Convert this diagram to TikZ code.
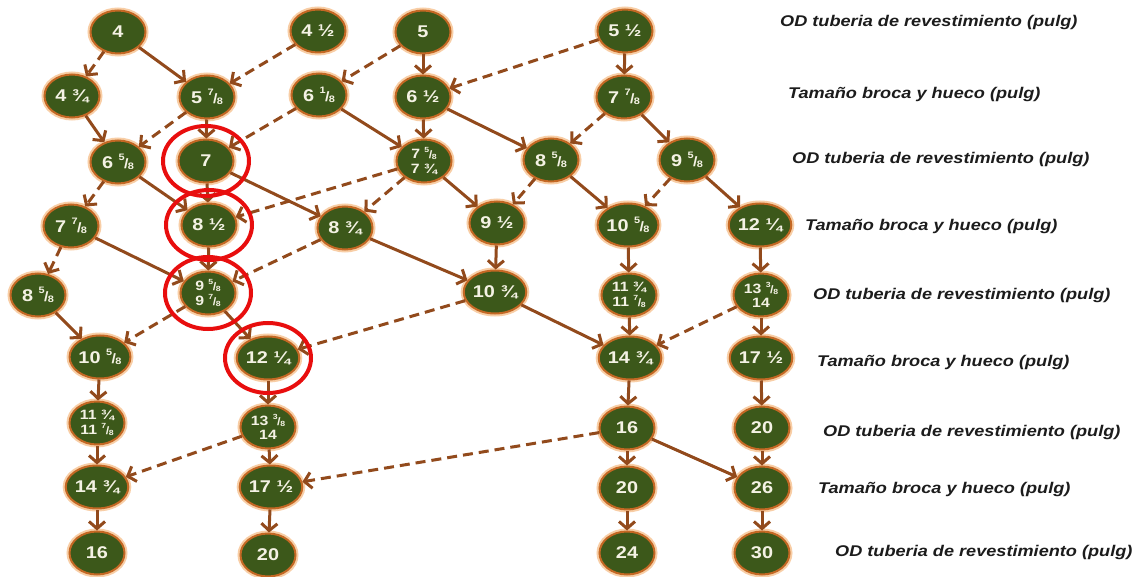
\documentclass[tikz,border=0pt]{standalone}
\usepackage{fontspec}
\setmainfont{Liberation Sans}
\usepackage{graphicx}
\usetikzlibrary{shapes.geometric,arrows.meta}

\definecolor{nodegreen}{RGB}{60,88,26}
\definecolor{rimorange}{RGB}{196,104,36}
\definecolor{halo}{RGB}{248,206,166}
\definecolor{linkbrown}{RGB}{146,74,28}
\definecolor{ringred}{RGB}{232,14,14}
\definecolor{labgray}{RGB}{28,28,28}
\definecolor{numtext}{RGB}{244,242,228}

% horizontally widened text
\newcommand\wide[1]{\scalebox{1.17}[1]{#1}}
% eighths written as small raised numerator / lowered denominator
\newcommand\eig[2]{\raisebox{.42em}{\scalebox{.55}{#1}}\kern-.03em\scalebox{.8}{/}\kern-.03em\raisebox{-.08em}{\scalebox{.55}{#2}}}

\tikzset{
  sz/.style={ellipse, fill=nodegreen, draw=rimorange, line width=2pt,
    minimum width=55pt, minimum height=43pt, inner sep=0pt, text=numtext,
    font=\fontsize{17}{17}\selectfont\bfseries,
    preaction={draw=halo, line width=6pt}},
  tw/.style={sz, align=center, font=\fontsize{13.5}{14.5}\selectfont\bfseries},
  link/.style={draw=linkbrown, line width=3pt,
    -{Straight Barb[length=7pt,width=16pt]}},
  dlink/.style={link, dash pattern=on 10pt off 6pt},
  ring/.style={draw=ringred, line width=4pt},
  lab/.style={anchor=west, inner sep=0pt, text=labgray,
    font=\fontsize{15.5}{16}\selectfont\bfseries\itshape}
}

\begin{document}
\begin{tikzpicture}[x=1pt,y=-1pt]
\fill[white] (0,0) rectangle (1143,577);
\useasboundingbox (0,0) rectangle (1143,577);

% row 1
\node[sz] (A1) at (118,32) {\wide{4}};
\node[sz] (A2) at (318,31) {\wide{4 ½}};
\node[sz] (A3) at (423,32) {\wide{5}};
\node[sz] (A4) at (625,31) {\wide{5 ½}};
% row 2
\node[sz] (B1) at (72,96) {\wide{4 ¾}};
\node[sz] (B2) at (207,97) {\wide{5 \eig78}};
\node[sz] (B3) at (319,95) {\wide{6 \eig18}};
\node[sz] (B4) at (423,97) {\wide{6 ½}};
\node[sz] (B5) at (624,97) {\wide{7 \eig78}};
% row 3
\node[sz] (C1) at (118,162) {\wide{6 \eig58}};
\node[sz] (C2) at (206,161) {\wide{7}};
\node[tw] (C3) at (424,161) {\wide{7 \eig58}\\\wide{7 ¾}};
\node[sz] (C4) at (551,160) {\wide{8 \eig58}};
\node[sz] (C5) at (687,160) {\wide{9 \eig58}};
% row 4
\node[sz] (D1) at (71,226) {\wide{7 \eig78}};
\node[sz] (D2) at (209,225) {\wide{8 ½}};
\node[sz] (D3) at (345,228) {\wide{8 ¾}};
\node[sz] (D4) at (497,223) {\wide{9 ½}};
\node[sz] (D5) at (628,225) {\wide{10 \eig58}};
\node[sz] (D6) at (760,225) {\wide{12 ¼}};
% row 5
\node[sz] (E1) at (38,295) {\wide{8 \eig58}};
\node[tw] (E2) at (208,293) {\wide{9 \eig58}\\\wide{9 \eig78}};
\node[sz] (E3) at (495,292) {\wide{10 ¾}};
\node[tw] (E4) at (629,295) {\wide{11 ¾}\\\wide{11 \eig78}};
\node[tw] (E5) at (761,295) {\wide{13 \eig38}\\\wide{14}};
% row 6
\node[sz] (F1) at (100,357) {\wide{10 \eig58}};
\node[sz] (F2) at (268,358) {\wide{12 ¼}};
\node[sz] (F3) at (630,358) {\wide{14 ¾}};
\node[sz] (F4) at (761,358) {\wide{17 ½}};
% row 7
\node[tw] (G1) at (97,423) {\wide{11 ¾}\\\wide{11 \eig78}};
\node[tw] (G2) at (268,427) {\wide{13 \eig38}\\\wide{14}};
\node[sz] (G3) at (627,428) {\wide{16}};
\node[sz] (G4) at (762,428) {\wide{20}};
% row 8
\node[sz] (H1) at (97,487) {\wide{14 ¾}};
\node[sz] (H2) at (271,487) {\wide{17 ½}};
\node[sz] (H3) at (627,488) {\wide{20}};
\node[sz] (H4) at (762,488) {\wide{26}};
% row 9
\node[sz] (I1) at (97,553) {\wide{16}};
\node[sz] (I2) at (268,555) {\wide{20}};
\node[sz] (I3) at (627,553) {\wide{24}};
\node[sz] (I4) at (762,553) {\wide{30}};

% connectors
\draw[dlink] (A1) -- (B1);
\draw[link]  (A1) -- (B2);
\draw[dlink] (A2) -- (B2);
\draw[dlink] (A3) -- (B3);
\draw[link]  (A3) -- (B4);
\draw[dlink] (A4) -- (B4);
\draw[link]  (A4) -- (B5);

\draw[link]  (B1) -- (C1);
\draw[dlink] (B2) -- (C1);
\draw[link]  (B2) -- (C2);
\draw[dlink] (B3) -- (C2);
\draw[link]  (B3) -- (C3);
\draw[link]  (B4) -- (C3);
\draw[link]  (B4) -- (C4);
\draw[dlink] (B5) -- (C4);
\draw[link]  (B5) -- (C5);

\draw[dlink] (C1) -- (D1);
\draw[link]  (C1) -- (D2);
\draw[link]  (C2) -- (D2);
\draw[link]  (C2) -- (D3);
\draw[dlink] (C3) -- (D2);
\draw[dlink] (C3) -- (D3);
\draw[link]  (C3) -- (D4);
\draw[dlink] (C4) -- (D4);
\draw[link]  (C4) -- (D5);
\draw[dlink] (C5) -- (D5);
\draw[link]  (C5) -- (D6);

\draw[dlink] (D1) -- (E1);
\draw[link]  (D1) -- (E2);
\draw[link]  (D2) -- (E2);
\draw[dlink] (D3) -- (E2);
\draw[link]  (D3) -- (E3);
\draw[link]  (D4) -- (E3);
\draw[link]  (D5) -- (E4);
\draw[link]  (D6) -- (E5);

\draw[link]  (E1) -- (F1);
\draw[dlink] (E2) -- (F1);
\draw[link]  (E2) -- (F2);
\draw[dlink] (E3) -- (F2);
\draw[link]  (E3) -- (F3);
\draw[link]  (E4) -- (F3);
\draw[dlink] (E5) -- (F3);
\draw[link]  (E5) -- (F4);

\draw[link]  (F1) -- (G1);
\draw[link]  (F2) -- (G2);
\draw[link]  (F3) -- (G3);
\draw[link]  (F4) -- (G4);

\draw[link]  (G1) -- (H1);
\draw[dlink] (G2) -- (H1);
\draw[link]  (G2) -- (H2);
\draw[dlink] (G3) -- (H2);
\draw[link]  (G3) -- (H3);
\draw[link]  (G3) -- (H4);
\draw[link]  (G4) -- (H4);

\draw[link]  (H1) -- (I1);
\draw[link]  (H2) -- (I2);
\draw[link]  (H3) -- (I3);
\draw[link]  (H4) -- (I4);

% highlighted sizes
\draw[ring] (C2) ellipse [x radius=43, y radius=35];
\draw[ring] (D2) ellipse [x radius=43, y radius=35];
\draw[ring] (E2) ellipse [x radius=43, y radius=36];
\draw[ring] (F2) ellipse [x radius=43, y radius=35];

% row captions
\node[lab] (L1) at (780,22)  {\wide{OD tuberia de revestimiento (pulg)}};
\node[lab] (L2) at (788,94)  {\wide{Tamaño broca y hueco (pulg)}};
\node[lab] (L3) at (792,159) {\wide{OD tuberia de revestimiento (pulg)}};
\node[lab] (L4) at (805,226) {\wide{Tamaño broca y hueco (pulg)}};
\node[lab] (L5) at (813,295) {\wide{OD tuberia de revestimiento (pulg)}};
\node[lab] (L6) at (817,362) {\wide{Tamaño broca y hueco (pulg)}};
\node[lab] (L7) at (823,432) {\wide{OD tuberia de revestimiento (pulg)}};
\node[lab] (L8) at (818,489) {\wide{Tamaño broca y hueco (pulg)}};
\node[lab] (L9) at (835,552) {\wide{OD tuberia de revestimiento (pulg)}};
\end{tikzpicture}
\end{document}
